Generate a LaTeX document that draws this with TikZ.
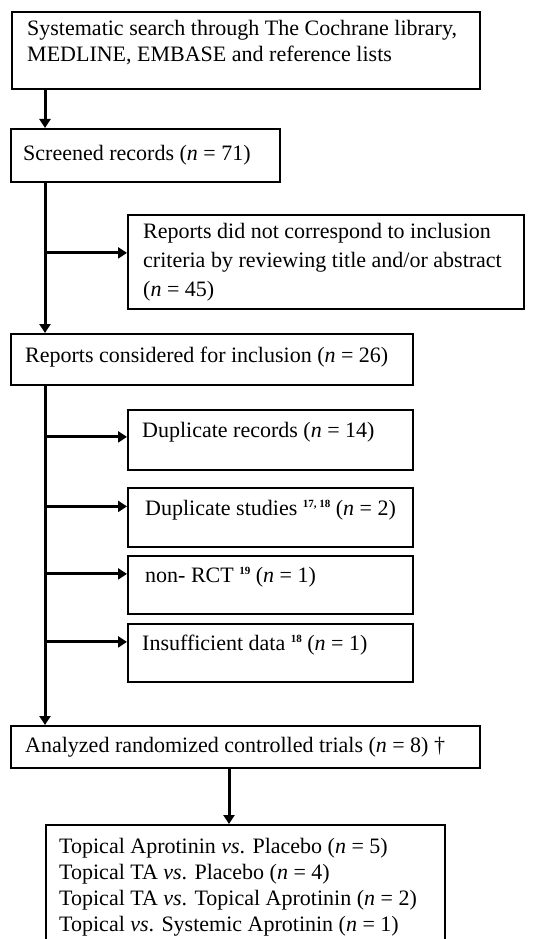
\documentclass[tikz,border=0pt]{standalone}
\usepackage{fontspec}
\setmainfont{Liberation Serif}
\usetikzlibrary{arrows.meta}
\newcommand{\supr}[1]{\raisebox{8pt}{\fontsize{11}{11}\selectfont\bfseries #1}}
\begin{document}
\begin{tikzpicture}[x=1pt,y=-1pt,
  box/.style={draw,line width=1.8pt,rectangle,inner sep=0pt,anchor=north west},
  lbl/.style={anchor=base west,inner sep=0pt,font=\fontsize{22}{26}\selectfont},
  arr/.style={line width=3pt,-{Triangle[width=11pt,length=9pt]}},
  ln/.style={line width=3pt}]
\clip (0,0) rectangle (534,939);
\useasboundingbox (0,0) rectangle (534,939);
\coordinate (sx) at (45,0);
\coordinate (sy) at (229,0);
% boxes
\node[box,minimum width=468pt,minimum height=77pt] (b1) at (11,11) {};
\node[box,minimum width=269pt,minimum height=53pt] (b2) at (10,128) {};
\node[box,minimum width=396pt,minimum height=94pt] (e1) at (127,214) {};
\node[box,minimum width=402pt,minimum height=51pt] (b3) at (10,333) {};
\node[box,minimum width=285pt,minimum height=60pt] (e2) at (127,409) {};
\node[box,minimum width=285pt,minimum height=59pt] (e3) at (127,487) {};
\node[box,minimum width=285pt,minimum height=58pt] (e4) at (127,555) {};
\node[box,minimum width=285pt,minimum height=58pt] (e5) at (127,623) {};
\node[box,minimum width=469pt,minimum height=42pt] (b4) at (10,725) {};
\node[box,minimum width=399pt,minimum height=140pt] (b5) at (45,824) {};
% texts
\node[lbl] (t1a) at (27,36) {Systematic search through The Cochrane library,};
\node[lbl] (t1b) at (27,62) {MEDLINE, EMBASE and reference lists};
\node[lbl] (t2) at (23,160) {Screened records (\textit{n} = 71)};
\node[lbl] (te1a) at (143,238) {Reports did not correspond to inclusion};
\node[lbl] (te1b) at (143,267) {criteria by reviewing title and/or abstract};
\node[lbl] (te1c) at (143,296) {(\textit{n} = 45)};
\node[lbl] (t3) at (25,362) {Reports considered for inclusion (\textit{n} = 26)};
\node[lbl] (te2) at (142,437) {Duplicate records (\textit{n} = 14)};
\node[lbl] (te3) at (145,515) {Duplicate studies \supr{17, 18} (\textit{n} = 2)};
\node[lbl] (te4) at (145,582) {non- RCT \supr{19} (\textit{n} = 1)};
\node[lbl] (te5) at (142,650) {Insufficient data \supr{18} (\textit{n} = 1)};
\node[lbl] (t4) at (25,752) {Analyzed randomized controlled trials (\textit{n} = 8) †};
\node[lbl] (t5a) at (59,853) {Topical Aprotinin \textit{vs}. Placebo (\textit{n} = 5)};
\node[lbl] (t5b) at (59,879) {Topical TA \textit{vs}. Placebo (\textit{n} = 4)};
\node[lbl] (t5c) at (59,905) {Topical TA \textit{vs}. Topical Aprotinin (\textit{n} = 2)};
\node[lbl] (t5d) at (59,931) {Topical \textit{vs}. Systemic Aprotinin (\textit{n} = 1)};
% connector anchors
\coordinate (a1) at ([yshift=9pt]e1.west);
\coordinate (a2) at ([yshift=3pt]e2.west);
\coordinate (a3) at ([yshift=11pt]e3.west);
\coordinate (a4) at ([yshift=11pt]e4.west);
\coordinate (a5) at ([yshift=11pt]e5.west);
% connectors
\draw[arr] (b1.south -| sx) -- (b2.north -| sx);
\draw[arr] (b2.south -| sx) -- (b3.north -| sx);
\draw[arr] (b3.south -| sx) -- (b4.north -| sx);
\draw[arr] (b4.south -| sy) -- (b5.north -| sy);
\draw[arr] (sx |- a1) -- (a1);
\draw[arr] (sx |- a2) -- (a2);
\draw[arr] (sx |- a3) -- (a3);
\draw[arr] (sx |- a4) -- (a4);
\draw[arr] (sx |- a5) -- (a5);
\end{tikzpicture}
\end{document}
